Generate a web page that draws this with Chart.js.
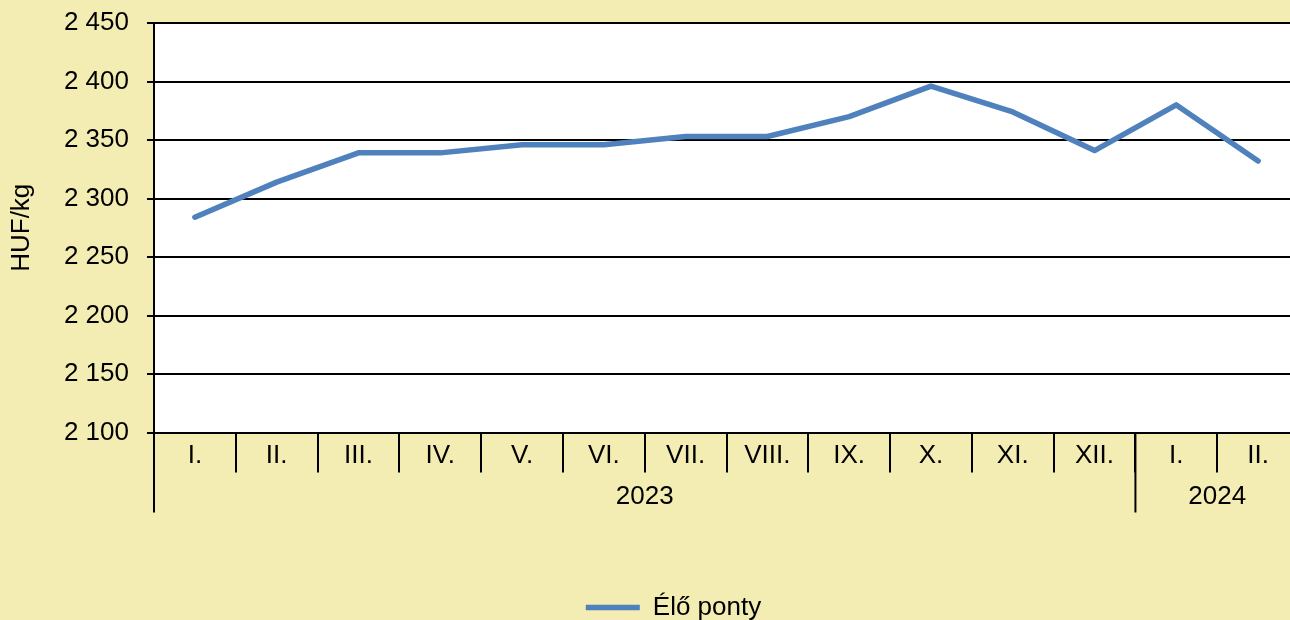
<!DOCTYPE html>
<html>
<head>
<meta charset="utf-8">
<script src="https://cdn.jsdelivr.net/npm/chart.js@4/dist/chart.umd.min.js"></script>
<style>
  html, body { margin: 0; padding: 0; background: #f4edb3; overflow: hidden; }
  #wrap { width: 1290px; height: 620px; overflow: hidden; }
</style>
</head>
<body>
<div id="wrap"><canvas id="priceChart" width="1350" height="640"></canvas></div>
<script>
// monthly average price, live carp
const months = ['I.', 'II.', 'III.', 'IV.', 'V.', 'VI.', 'VII.', 'VIII.', 'IX.', 'X.', 'XI.', 'XII.', 'I.', 'II.'];
const prices = [2284, 2314, 2339, 2339, 2346, 2346, 2353, 2353, 2370, 2396, 2374, 2341, 2380, 2332];
const years = ['2023', '2024'];
const monthsPerYear = [12, 2];
const yTicks = [2100, 2150, 2200, 2250, 2300, 2350, 2400, 2450];

const FONT = 'Liberation Sans, Arial, sans-serif';
const FONT_SIZE = 26;

// thousands separated by a space: 2 450
function fmt(v) {
    return String(v).replace(/\B(?=(\d{3})+(?!\d))/g, ' ');
}

// white plot area on the yellow background
const plotBackground = {
    id: 'plotBackground',
    beforeDraw(chart) {
        const { ctx, chartArea } = chart;
        ctx.save();
        ctx.fillStyle = '#ffffff';
        ctx.fillRect(chartArea.left, chartArea.top, chartArea.right - chartArea.left, chartArea.bottom - chartArea.top);
        ctx.restore();
    }
};

// second row of the category axis: year groups with long dividers
const yearRow = {
    id: 'yearRow',
    afterDraw(chart) {
        const { ctx, chartArea } = chart;
        const x = chart.scales.x;
        const half = (x.getPixelForValue(1) - x.getPixelForValue(0)) / 2;
        let start = 0;
        ctx.save();
        ctx.strokeStyle = '#000';
        ctx.lineWidth = 2;
        ctx.fillStyle = '#000';
        ctx.font = FONT_SIZE + 'px ' + FONT;
        ctx.textAlign = 'center';
        ctx.textBaseline = 'middle';
        years.forEach((year, i) => {
            const left = x.getPixelForValue(start) - half;
            const right = x.getPixelForValue(start + monthsPerYear[i] - 1) + half;
            ctx.beginPath();
            ctx.moveTo(left, chartArea.bottom);
            ctx.lineTo(left, chartArea.bottom + 80);
            ctx.stroke();
            ctx.fillText(year, (left + right) / 2, chartArea.bottom + 64);
            start += monthsPerYear[i];
        });
        ctx.restore();
    }
};

const ctx = document.getElementById('priceChart').getContext('2d');
const chart = new Chart(ctx, {
    type: 'line',
    data: {
        labels: months,
        datasets: [{
            label: 'Élő ponty',
            data: prices,
            borderColor: '#4f81bd',
            backgroundColor: '#4f81bd',
            borderWidth: 5.5,
            borderCapStyle: 'round',
            borderJoinStyle: 'round',
            pointRadius: 0,
            pointHoverRadius: 0,
            tension: 0,
            fill: false
        }]
    },
    options: {
        responsive: false,
        animation: false,
        layout: {
            padding: { left: 48, right: 51, top: 23, bottom: 9.5 }
        },
        scales: {
            x: {
                offset: true,
                grid: {
                    offset: true,
                    drawOnChartArea: false,
                    color: '#000',
                    lineWidth: 2,
                    tickLength: 40
                },
                border: { color: '#000', width: 2 },
                ticks: {
                    color: '#000',
                    font: { family: FONT, size: FONT_SIZE },
                    padding: -32,
                    maxRotation: 0,
                    autoSkip: false
                },
                afterFit(scale) { scale.height = 152; }
            },
            y: {
                min: 2100,
                max: 2450,
                grid: {
                    color: '#000',
                    lineWidth: 2,
                    tickLength: 7
                },
                border: { color: '#000', width: 2 },
                ticks: {
                    stepSize: 50,
                    color: '#000',
                    padding: 18,
                    font: { family: FONT, size: FONT_SIZE },
                    callback: v => fmt(v)
                },
                afterBuildTicks(scale) { scale.ticks = yTicks.map(v => ({ value: v })); },
                title: {
                    display: true,
                    text: 'HUF/kg',
                    color: '#000',
                    font: { family: FONT, size: FONT_SIZE },
                    padding: { top: -41.5, bottom: 0 }
                },
                afterFit(scale) {
                    scale.width = 106;
                    // top/bottom labels may hang outside; the layout padding covers them
                    scale.paddingTop = 0;
                    scale.paddingBottom = 0;
                }
            }
        },
        plugins: {
            legend: {
                position: 'bottom',
                labels: {
                    color: '#000',
                    font: { family: FONT, size: FONT_SIZE },
                    usePointStyle: true,
                    pointStyle: 'line',
                    pointStyleWidth: 54,
                    padding: 10
                }
            },
            tooltip: { enabled: false }
        }
    },
    plugins: [plotBackground, yearRow]
});
</script>
</body>
</html>
